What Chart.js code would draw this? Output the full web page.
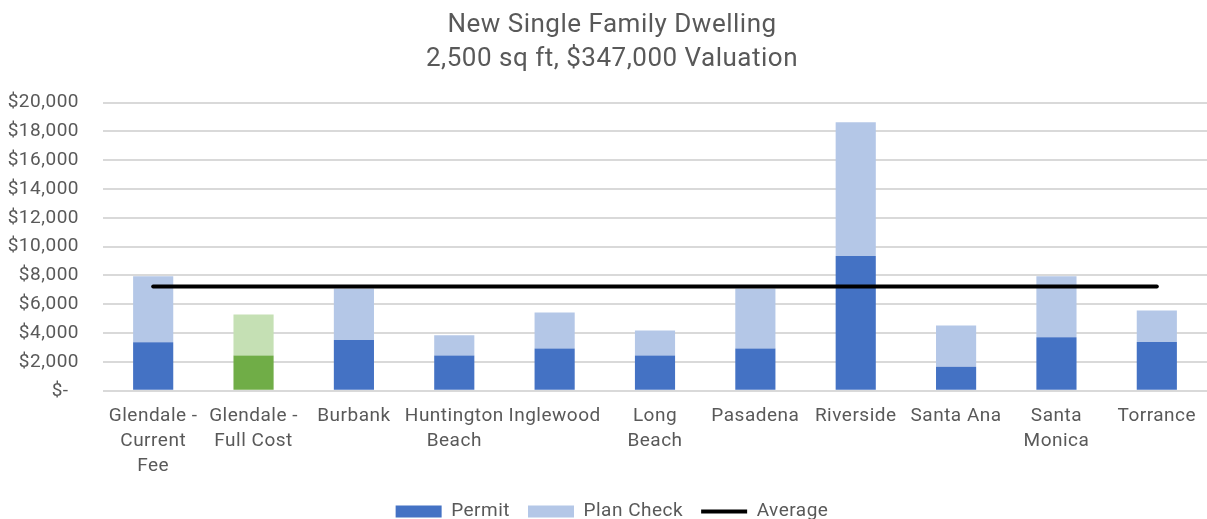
<!DOCTYPE html>
<html>
<head>
<meta charset="utf-8">
<script src="https://cdn.jsdelivr.net/npm/chart.js@4"></script>
<style>
  html, body { margin: 0; padding: 0; background: #fff; }
  #wrap { width: 1207px; height: 519px; }
</style>
</head>
<body>
<div id="wrap"><canvas id="chart"></canvas></div>
<script>
// categories (multi-line labels as in the original)
const cities = [
    ["Glendale -", "Current", "Fee"],
    ["Glendale -", "Full Cost"],
    "Burbank",
    ["Huntington", "Beach"],
    "Inglewood",
    ["Long", "Beach"],
    "Pasadena",
    "Riverside",
    "Santa Ana",
    ["Santa", "Monica"],
    "Torrance"
];

// fee values
const permitFees    = [3370, 2440, 3530, 2440, 2930, 2440, 2930, 9360, 1670, 3710, 3390];
const planCheckFees = [4580, 2860, 3570, 1410, 2510, 1740, 4170, 9270, 2860, 4230, 2180];
const averageFee    = [7230, 7230, 7230, 7230, 7230, 7230, 7230, 7230, 7230, 7230, 7230];

// colours (the "Full Cost" bar is drawn in green)
const blueDark  = "#4472C4";
const blueLight = "#B4C7E7";
const greenDark = "#70AD47";
const greenLight = "#C5E0B4";

const permitColors = cities.map((c, i) => i === 1 ? greenDark : blueDark);
const planColors   = cities.map((c, i) => i === 1 ? greenLight : blueLight);

const textGray = "#595959";

// the original text is a little wider-spaced than plain Roboto
const spacing = {
    id: "spacing",
    beforeLayout(chart) { chart.ctx.letterSpacing = "0.5px"; },
    beforeDraw(chart) { chart.ctx.letterSpacing = "0.5px"; },
    // title and legend sit a bit right of the canvas centre in the original
    afterLayout(chart) {
        chart.titleBlock.left += 7;
        chart.legend.left += 7;
    }
};

new Chart(document.getElementById("chart"), {
    type: "bar",
    plugins: [spacing],
    data: {
        labels: cities,
        datasets: [
            {
                label: "Permit",
                data: permitFees,
                backgroundColor: permitColors,
                stack: "fees",
                order: 1,
                pointStyle: "rect",
                barPercentage: 0.4,
                categoryPercentage: 1.0
            },
            {
                label: "Plan Check",
                data: planCheckFees,
                backgroundColor: planColors,
                stack: "fees",
                order: 2,
                pointStyle: "rect",
                barPercentage: 0.4,
                categoryPercentage: 1.0
            },
            {
                type: "line",
                label: "Average",
                data: averageFee,
                borderColor: "#000",
                backgroundColor: "#000",
                borderWidth: 4,
                borderCapStyle: "round",
                pointRadius: 0,
                pointStyle: "line",
                stack: "avg",
                order: 0
            }
        ]
    },
    options: {
        responsive: true,
        maintainAspectRatio: false,
        animation: false,
        layout: { padding: { left: 4, right: -6, top: 0, bottom: -12 } },
        plugins: {
            title: {
                display: true,
                text: ["New Single Family Dwelling", "2,500 sq ft, $347,000 Valuation"],
                color: textGray,
                font: { family: "Roboto", size: 26, weight: "normal", lineHeight: 1.3 },
                padding: { top: 9, bottom: 26 }
            },
            legend: {
                position: "bottom",
                labels: {
                    color: textGray,
                    font: { family: "Roboto", size: 19 },
                    usePointStyle: true,
                    pointStyleWidth: 46,
                    boxHeight: 12,
                    padding: 18,
                    sort: (a, b) => a.datasetIndex - b.datasetIndex
                }
            },
            tooltip: { enabled: false }
        },
        scales: {
            x: {
                stacked: true,
                grid: { display: false },
                border: { display: false },
                ticks: {
                    color: textGray,
                    font: { family: "Roboto", size: 19, lineHeight: 1.32 },
                    maxRotation: 0,
                    autoSkip: false,
                    padding: 5
                }
            },
            y: {
                stacked: true,
                min: 0,
                max: 20000,
                afterFit: scale => { scale.width = 99; },
                grid: { color: "#D9D9D9", lineWidth: 2, drawTicks: false },
                border: { display: false },
                ticks: {
                    stepSize: 2000,
                    color: textGray,
                    font: { family: "Roboto", size: 19 },
                    padding: 24,
                    callback: v => v === 0 ? "$-  " : "$" + v.toLocaleString("en-US")
                }
            }
        }
    }
});
</script>
</body>
</html>
